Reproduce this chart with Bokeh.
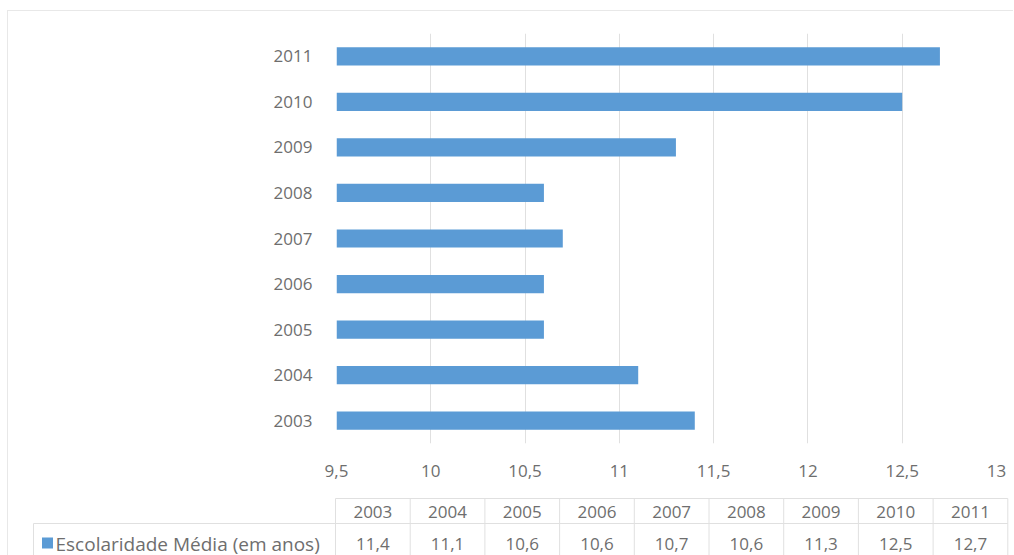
from bokeh.plotting import figure
from bokeh.models import FactorRange, Range1d, FixedTicker, ColumnDataSource
from bokeh.core.properties import value
from bokeh.embed import file_html
from bokeh.resources import INLINE

# Escolaridade média (em anos), 2003-2011
years = ["2003", "2004", "2005", "2006", "2007", "2008", "2009", "2010", "2011"]
escolaridade = [11.4, 11.1, 10.6, 10.6, 10.7, 10.6, 11.3, 12.5, 12.7]
x_ticks = [9.5, 10, 10.5, 11, 11.5, 12, 12.5, 13]
x_tick_labels = ["9,5", "10", "10,5", "11", "11,5", "12", "12,5", "13"]
series_name = "Escolaridade Média (em anos)"

FONT = "Open Sans"
FONT_SIZE = "17px"
TEXT = "#6e6e6e"
BAR = "#5B9BD5"
GRID = "#e0e0e0"
FRAME_EDGE = "#e8e8e8"
X_MIN, X_MAX = 9.5, 13

# ---- bar chart ----
p = figure(
    width=1006, height=470,
    y_range=FactorRange(*years),
    x_range=Range1d(X_MIN, X_MAX),
    output_backend="svg", toolbar_location=None,
    min_border_left=328, min_border_right=18,
    min_border_top=22, min_border_bottom=38,
    margin=(10, 0, 0, 7),
    styles={"border-top": f"1px solid {FRAME_EDGE}", "border-left": f"1px solid {FRAME_EDGE}"},
)
src = ColumnDataSource(dict(y=years, right=escolaridade))
p.hbar(y="y", left=X_MIN, right="right", height=0.4, source=src,
       fill_color=BAR, line_color=None)

p.outline_line_color = None
p.ygrid.grid_line_color = None
p.xgrid.grid_line_color = GRID
p.xgrid.grid_line_width = 1

p.xaxis.ticker = FixedTicker(ticks=x_ticks)
p.xaxis.major_label_overrides = {t: s for t, s in zip(x_ticks, x_tick_labels)}
for ax in (p.xaxis[0], p.yaxis[0]):
    ax.axis_line_color = None
    ax.major_tick_line_color = None
    ax.minor_tick_line_color = None
    ax.major_label_text_font = FONT
    ax.major_label_text_font_size = FONT_SIZE
    ax.major_label_text_color = TEXT
p.xaxis.major_label_standoff = 15
p.yaxis.major_label_standoff = 18

# ---- data table below the chart (local pixel coordinates) ----
TW, TH = 1006, 75
t = figure(
    width=TW, height=TH,
    x_range=Range1d(0, TW), y_range=Range1d(TH, 0),
    output_backend="svg", toolbar_location=None,
    min_border=0,
    margin=(0, 0, 0, 7),
    styles={"border-left": f"1px solid {FRAME_EDGE}"},
)
t.axis.visible = False
t.grid.visible = False
t.outline_line_color = None

col_left0 = 327
col_w = 74.7
row_top, row_mid, row_bot = 18, 43, 80
label_left = 25

n = len(years)
col_edges = [col_left0 + i * col_w for i in range(n + 1)]
col_centers = [col_left0 + (i + 0.5) * col_w for i in range(n)]

# horizontal rules
t.segment(x0=[col_edges[0], label_left], y0=[row_top, row_mid],
          x1=[col_edges[-1], col_edges[-1]], y1=[row_top, row_mid],
          line_color=GRID, line_width=1)
# vertical rules
t.segment(x0=col_edges, y0=[row_top] * (n + 1), x1=col_edges, y1=[row_bot] * (n + 1),
          line_color=GRID, line_width=1)
t.segment(x0=[label_left], y0=[row_mid], x1=[label_left], y1=[row_bot],
          line_color=GRID, line_width=1)

t.text(x=col_centers, y=[(row_top + row_mid) / 2 + 1] * n, text=years,
       text_align="center", text_baseline="middle",
       text_font=value(FONT), text_font_size=FONT_SIZE, text_color=TEXT)
t.text(x=col_centers, y=[63] * n,
       text=[f"{v:.1f}".replace(".", ",") for v in escolaridade],
       text_align="center", text_baseline="middle",
       text_font=value(FONT), text_font_size=FONT_SIZE, text_color=TEXT)

# legend key and series name
t.rect(x=[39], y=[62.5], width=11, height=11, fill_color=BAR, line_color=None)
t.text(x=[47], y=[63], text=[series_name], text_align="left", text_baseline="middle",
       text_font=value(FONT), text_font_size="19px", text_color=TEXT)

open("out.html", "w").write(file_html([p, t], INLINE))
